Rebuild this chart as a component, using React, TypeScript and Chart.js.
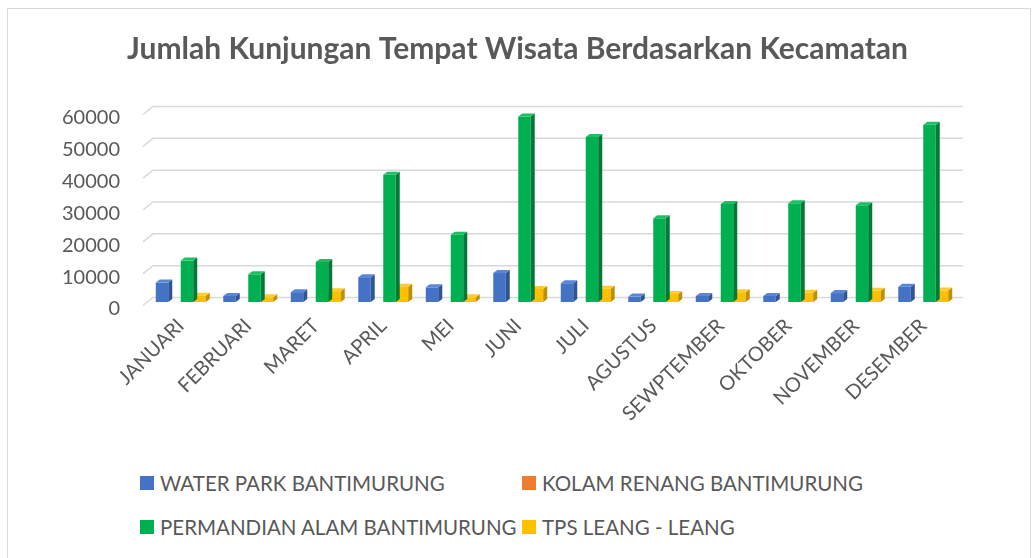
import React, { useEffect, useRef } from "react";
import { Chart, registerables } from "chart.js";

Chart.register(...registerables);

const categories = ["JANUARI", "FEBRUARI", "MARET", "APRIL", "MEI", "JUNI", "JULI", "AGUSTUS", "SEWPTEMBER", "OKTOBER", "NOVEMBER", "DESEMBER"];
const waterPark = [6100, 1900, 3100, 7800, 4600, 9100, 5900, 1700, 1900, 1900, 2800, 4800];
const kolamRenang = [0, 0, 0, 0, 0, 0, 0, 0, 0, 0, 0, 0];
const permandian = [13000, 8700, 12600, 40000, 21100, 58300, 51800, 26300, 30800, 31000, 30400, 55700];
const tpsLeang = [2000, 1500, 3400, 4800, 1500, 4100, 4200, 2500, 3100, 2900, 3500, 3600];
const seriesNames = ["WATER PARK BANTIMURUNG", "KOLAM RENANG BANTIMURUNG", "PERMANDIAN ALAM BANTIMURUNG", "TPS LEANG - LEANG"];
const yTicks = [0, 10000, 20000, 30000, 40000, 50000, 60000];

const COLORS = ["#4472C4", "#ED7D31", "#00B050", "#FFC000"];
const SIDE = ["#2F5597", "#B05A1F", "#007A37", "#BF9000"];
const TOP = ["#5A86D6", "#F28F4A", "#1BC062", "#FFCB2E"];
const FONT = "Lato, 'Open Sans', sans-serif";
const TEXT = "#595959";

const bar3d = {
  id: "bar3d",
  beforeDatasetsDraw(chart: any) {
    const { ctx, chartArea, scales } = chart;
    const ys = scales.y;
    ctx.save();
    ctx.strokeStyle = "#d9d9d9";
    ctx.lineWidth = 1.5;
    yTicks.forEach((v) => {
      const y = ys.getPixelForValue(v) - 4.5;
      ctx.beginPath();
      ctx.moveTo(chartArea.left - 4, y + 8);
      ctx.lineTo(chartArea.left + 6, y);
      ctx.lineTo(chartArea.right + 6, y);
      ctx.stroke();
    });
    ctx.restore();
  },
  afterDatasetDraw(chart: any, args: any) {
    const { ctx } = chart;
    const i = args.index;
    const meta = chart.getDatasetMeta(i);
    const d = 4;
    const dy = 3;
    ctx.save();
    meta.data.forEach((el: any) => {
      const { x, y, base, width } = el.getProps(["x", "y", "base", "width"], true);
      if (Math.abs(base - y) < 0.5) return;
      const l = x - width / 2;
      const r = x + width / 2;
      ctx.fillStyle = SIDE[i];
      ctx.beginPath();
      ctx.moveTo(r, y);
      ctx.lineTo(r + d, y - dy);
      ctx.lineTo(r + d, base - dy);
      ctx.lineTo(r, base);
      ctx.closePath();
      ctx.fill();
      ctx.fillStyle = TOP[i];
      ctx.beginPath();
      ctx.moveTo(l, y);
      ctx.lineTo(r, y);
      ctx.lineTo(r + d, y - dy);
      ctx.lineTo(l + d, y - dy);
      ctx.closePath();
      ctx.fill();
    });
    ctx.restore();
  },
};

function App() {
  const ref = useRef<HTMLCanvasElement>(null);
  useEffect(() => {
    if (!ref.current) return;
    const seriesData = [waterPark, kolamRenang, permandian, tpsLeang];
    const chart = new Chart(ref.current, {
      type: "bar",
      data: {
        labels: categories,
        datasets: seriesData.map((d, i) => ({
          label: seriesNames[i],
          data: d,
          backgroundColor: COLORS[i],
          borderWidth: 0,
          categoryPercentage: 0.74,
          barPercentage: 1,
        })),
      },
      plugins: [bar3d],
      options: {
        animation: false,
        responsive: false,
        maintainAspectRatio: false,
        layout: { padding: 0 },
        plugins: {
          legend: { display: false },
          tooltip: { enabled: false },
          title: {
            display: true,
            text: "Jumlah Kunjungan Tempat Wisata Berdasarkan Kecamatan",
            color: TEXT,
            font: { family: FONT, size: 30, weight: "bold", lineHeight: 1.2 },
            padding: { top: 31, bottom: 44 },
          },
        },
        scales: {
          x: {
            grid: { display: false, drawTicks: false },
            border: { display: false },
            ticks: {
              color: TEXT,
              font: { family: FONT, size: 20 },
              minRotation: 45,
              maxRotation: 45,
              padding: 12,
              autoSkip: false,
            },
            afterFit: (s: any) => {
              s.height = 158;
            },
          },
          y: {
            min: 0,
            max: 60000,
            afterBuildTicks: (s: any) => {
              s.ticks = yTicks.map((v) => ({ value: v }));
            },
            grid: { display: false, drawTicks: false },
            border: { display: false },
            ticks: {
              color: TEXT,
              font: { family: FONT, size: 20 },
              padding: 27,
              labelOffset: 7,
              callback: (v: any) => String(v),
            },
            afterFit: (s: any) => {
              s.width = 147;
            },
          },
          yRight: {
            position: "right",
            display: true,
            grid: { display: false, drawTicks: false },
            border: { display: false },
            ticks: { display: false },
            afterFit: (s: any) => {
              s.width = 78;
            },
          },
        },
      },
    });
    return () => chart.destroy();
  }, []);

  const legendItem = (i: number, left: number, top: number) => (
    <div
      key={i}
      style={{
        position: "absolute",
        left,
        top,
        display: "flex",
        alignItems: "center",
        fontFamily: FONT,
        fontSize: 20.5,
        color: TEXT,
        whiteSpace: "nowrap",
        lineHeight: "24px",
      }}
    >
      <span style={{ display: "inline-block", width: 14, height: 14, background: COLORS[i], marginRight: 6 }} />
      {seriesNames[i]}
    </div>
  );

  return (
    <div style={{ position: "absolute", left: 0, top: 0, width: 1035, height: 558, background: "#fff", overflow: "hidden" }}>
      <div style={{ position: "absolute", left: 7, top: 8, width: 1024, height: 600, border: "1px solid #d9d9d9", boxSizing: "border-box" }} />
      <canvas ref={ref} width={1035} height={460} style={{ position: "absolute", left: 0, top: 0 }} />
      {legendItem(0, 140, 471)}
      {legendItem(1, 522, 471)}
      {legendItem(2, 140, 515)}
      {legendItem(3, 522, 515)}
    </div>
  );
}

export default App;
